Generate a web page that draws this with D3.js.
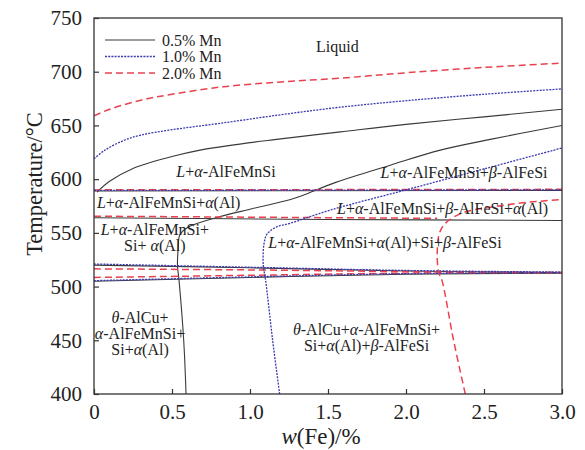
<!DOCTYPE html>
<html>
<head>
<meta charset="utf-8">
<script src="https://cdn.jsdelivr.net/npm/d3@7"></script>
</head>
<body style="margin:0; background:#fff">
<svg id="chart" width="585" height="450"></svg>
<script>
var serifFont = "'Liberation Serif'";

// tick values
var xTicks = [0, 0.5, 1.0, 1.5, 2.0, 2.5, 3.0];
var yTicks = [400, 450, 500, 550, 600, 650, 700, 750];

// curves, [w(Fe) %, T °C]
// 0.5% Mn (black solid)
var liq05 = [[0.02, 588], [0.1, 598], [0.25, 610], [0.5, 621], [0.68, 627], [1.0, 634], [1.17, 637], [1.58, 644], [2.0, 651], [2.5, 658], [3.0, 665]];
var beta05 = [[0.59, 400], [0.575, 450], [0.545, 506], [0.535, 520], [0.54, 536], [0.55, 548], [0.6, 555], [0.78, 564], [1.0, 572], [1.26, 581], [1.34, 585], [1.55, 597], [1.9, 613], [2.22, 627], [2.54, 637], [3.0, 650]];
var eut05a = [[0, 589], [3.0, 589.5]];
var eut05b = [[0, 564], [1.5, 562.5], [3.0, 561.5]];
var eut05c = [[0, 520], [1.0, 517.5], [2.0, 514.5], [3.0, 513]];
var eut05d = [[0, 505], [1.0, 508.5], [2.0, 511.5], [3.0, 512.5]];
// 1.0% Mn (blue dotted)
var liq10 = [[0, 619], [0.07, 627], [0.19, 636], [0.3, 641], [0.5, 646], [0.81, 652], [1.2, 660], [1.58, 667], [2.0, 673], [2.5, 679], [3.0, 684]];
var beta10 = [[1.19, 400], [1.145, 450], [1.10, 506], [1.085, 520], [1.09, 540], [1.11, 549], [1.17, 555.5], [1.26, 559], [1.51, 571], [2.0, 590], [2.5, 609.5], [3.0, 629]];
var eut10a = [[0, 589.5], [3.0, 590]];
var eut10c = [[0, 521], [1.0, 518], [2.0, 515], [3.0, 513.5]];
var eut10d = [[0, 505.5], [1.0, 509], [2.0, 512], [3.0, 513]];
// 2.0% Mn (red dashed)
var liq20 = [[0, 659], [0.1, 665], [0.3, 673.5], [0.5, 679], [0.83, 686], [1.2, 690.5], [1.58, 694], [2.0, 699], [2.5, 704], [3.0, 708]];
var beta20 = [[2.38, 400], [2.305, 450], [2.23, 506], [2.21, 513], [2.2, 530], [2.215, 550], [2.26, 560], [2.37, 569], [2.55, 574], [2.75, 578], [3.0, 581]];
var eut20a = [[0, 590], [3.0, 590.5]];
var eut20b = [[0, 565.5], [2.2, 563.5]];
var eut20c = [[0, 516.5], [1.0, 515.5], [2.0, 514], [3.0, 513]];
var eut20d = [[0, 508.5], [1.0, 510.5], [2.0, 512.5], [3.0, 513]];

var seriesNames = ['0.5% Mn', '1.0% Mn', '2.0% Mn'];

// phase field labels
var regionText = [
    ['Liquid'],
    ['L+α-AlFeMnSi'],
    ['L+α-AlFeMnSi+α(Al)'],
    ['L+α-AlFeMnSi+', 'Si+ α(Al)'],
    ['L+α-AlFeMnSi+β-AlFeSi'],
    ['L+α-AlFeMnSi+β-AlFeSi+α(Al)'],
    ['L+α-AlFeMnSi+α(Al)+Si+β-AlFeSi'],
    ['θ-AlCu+', 'α-AlFeMnSi+', 'Si+α(Al)'],
    ['θ-AlCu+α-AlFeMnSi+', 'Si+α(Al)+β-AlFeSi']
];
// anchor of the first line of each label, [w(Fe), T]
var regionAt = [[1.56, 718], [0.846, 602], [0.478, 573], [0.39, 548], [2.372, 601], [2.234, 567.5], [1.865, 536], [0.295, 466], [1.747, 455]];

var svg = d3.select('#chart');
var margin = { top: 18, right: 23, bottom: 56, left: 94 };
var width = 585, height = 450;

var x = d3.scaleLinear().domain([0, 3]).range([margin.left, width - margin.right]);
var y = d3.scaleLinear().domain([400, 750]).range([height - margin.bottom, margin.top]);

var styles = [
    { stroke: '#3a3a3a', width: 1.1, dash: null },
    { stroke: '#3b3bb0', width: 1.3, dash: '2,1.2' },
    { stroke: '#e8424f', width: 1.5, dash: '7,4' }
];

var line = d3.line()
    .x(d => x(d[0]))
    .y(d => y(d[1]))
    .curve(d3.curveCatmullRom.alpha(0.5));

var groups = [
    [liq05, beta05, eut05a, eut05b, eut05c, eut05d],
    [liq10, beta10, eut10a, eut10c, eut10d],
    [liq20, beta20, eut20a, eut20b, eut20c, eut20d]
];

var plot = svg.append('g');
plot.append('clipPath').attr('id', 'clip')
    .append('rect')
    .attr('x', margin.left).attr('y', margin.top)
    .attr('width', width - margin.left - margin.right)
    .attr('height', height - margin.top - margin.bottom);

var curves = plot.append('g').attr('clip-path', 'url(#clip)');
// black first, then red, then blue on top
[0, 2, 1].forEach(function (i) {
    curves.selectAll('.c' + i)
        .data(groups[i])
        .enter()
        .append('path')
        .attr('d', line)
        .attr('fill', 'none')
        .attr('stroke', styles[i].stroke)
        .attr('stroke-width', styles[i].width)
        .attr('stroke-dasharray', styles[i].dash);
});

// axes
var xAxis = d3.axisBottom(x)
    .tickValues(xTicks)
    .tickFormat(d => d === 0 ? '0' : d.toFixed(1))
    .tickSizeInner(-5).tickSizeOuter(0).tickPadding(10);
var yAxis = d3.axisLeft(y)
    .tickValues(yTicks)
    .tickSizeInner(-5).tickSizeOuter(0).tickPadding(12);

var gx = svg.append('g').attr('transform', `translate(0, ${height - margin.bottom})`).call(xAxis);
var gy = svg.append('g').attr('transform', `translate(${margin.left}, 0)`).call(yAxis);
[gx, gy].forEach(function (g) {
    g.attr('font-family', null).attr('font-size', null);
    g.select('.domain').remove();
    g.selectAll('line').attr('stroke', '#333').attr('stroke-width', 1.2);
    g.selectAll('text')
        .attr('font-family', serifFont)
        .attr('font-size', 21)
        .attr('fill', '#222');
});

// frame
svg.append('rect')
    .attr('x', margin.left).attr('y', margin.top)
    .attr('width', width - margin.left - margin.right)
    .attr('height', height - margin.top - margin.bottom)
    .attr('fill', 'none')
    .attr('stroke', '#333')
    .attr('stroke-width', 1.3);

// axis titles
var xt = svg.append('text')
    .attr('x', (margin.left + width - margin.right) / 2 - 7)
    .attr('y', 444)
    .attr('text-anchor', 'middle')
    .attr('font-family', serifFont)
    .attr('font-size', 23)
    .attr('fill', '#222');
xt.append('tspan').attr('font-style', 'italic').text('w');
xt.append('tspan').text('(Fe)/%');

svg.append('text')
    .attr('transform', 'translate(42, 184) rotate(-90)')
    .attr('text-anchor', 'middle')
    .attr('font-family', serifFont)
    .attr('font-size', 22.5)
    .attr('fill', '#222')
    .text('Temperature/°C');

// labels with italic phase symbols (L only when it is the liquid phase)
function richText(sel, str) {
    var parts = str.split(/(L(?=\+)|[αβθ])/).filter(s => s && s.length);
    parts.forEach(function (p) {
        var t = sel.append('tspan').text(p);
        if (/^[Lαβθ]$/.test(p)) t.attr('font-style', 'italic');
    });
}

regionText.forEach(function (lines, i) {
    var px = x(regionAt[i][0]);
    var py = y(regionAt[i][1]);
    lines.forEach(function (s, j) {
        var t = svg.append('text')
            .attr('x', px)
            .attr('y', py + j * 16)
            .attr('text-anchor', 'middle')
            .attr('font-family', serifFont)
            .attr('font-size', 16)
            .attr('fill', '#222');
        richText(t, s);
    });
});

// legend
var legend = svg.append('g');
seriesNames.forEach(function (name, i) {
    var ly = 40 + i * 16.5;
    legend.append('line')
        .attr('x1', 105).attr('x2', 155)
        .attr('y1', ly).attr('y2', ly)
        .attr('stroke', styles[i].stroke)
        .attr('stroke-width', styles[i].width)
        .attr('stroke-dasharray', styles[i].dash);
    legend.append('text')
        .attr('x', 162).attr('y', ly)
        .attr('dy', '0.35em')
        .attr('font-family', serifFont)
        .attr('font-size', 16)
        .attr('fill', '#222')
        .text(name);
});
</script>
</body>
</html>
